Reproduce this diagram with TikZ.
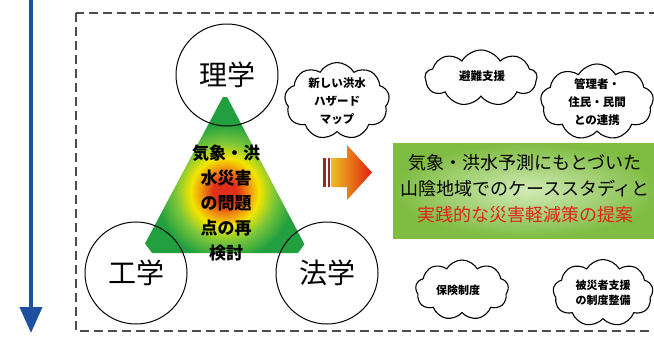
\documentclass[tikz,border=0pt]{standalone}
\usepackage{fontspec}
\newfontfamily\jp{Noto Sans CJK JP}
\usetikzlibrary{shapes.symbols,arrows.meta}
\definecolor{tred}{HTML}{E0301A}
\definecolor{torange}{HTML}{F08A10}
\definecolor{tyellow}{HTML}{F2E600}
\definecolor{tlgreen}{HTML}{7CC63A}
\definecolor{tgreen}{HTML}{22A040}
\definecolor{arrowblue}{HTML}{1F4F9F}
\definecolor{gboxin}{HTML}{D2EAB6}
\definecolor{gboxout}{HTML}{7EBC42}
\definecolor{txtred}{HTML}{E0251B}
\definecolor{stripe}{HTML}{9A2A1A}
\definecolor{aleft}{HTML}{EEC020}
\definecolor{aright}{HTML}{E0200F}
\pgfdeclareradialshading{trishade}{\pgfpoint{0bp}{0bp}}{color(0bp)=(tred); color(3.2bp)=(tred); color(6bp)=(torange); color(9bp)=(tyellow); color(13bp)=(tlgreen); color(18bp)=(tgreen); color(50bp)=(tgreen)}
\tikzset{
  discipline/.style={circle, draw, line width=1pt, minimum size=102pt, inner sep=0pt, font=\jp\fontsize{28}{30}\selectfont},
  cloudbox/.style={cloud, cloud puffs=9, cloud puff arc=120, draw, line width=1.1pt, cloud ignores aspect, inner sep=0pt, align=center},
  cloudtxt/.style={font=\jp\bfseries\fontsize{11.5}{18}\selectfont},
  cloudtxts/.style={font=\jp\bfseries\fontsize{11}{15}\selectfont},
  boxtxt/.style={font=\jp\fontsize{18}{20}\selectfont, inner sep=0pt},
  dashbox/.style={dash pattern=on 9pt off 5pt, line width=1.6pt, color=black!70}
}
\begin{document}
\begin{tikzpicture}[x=1pt,y=-1pt]
\useasboundingbox (0,0) rectangle (654,338);
% timeline arrow
\coordinate (atop) at (31,-3);
\coordinate (abot) at (31,333);
\draw[line width=4pt, color=arrowblue, -{Triangle[width=22pt,length=26pt]}] (atop) -- (abot);
% dashed frame
\draw[dashbox] (76,13) rectangle (672,331);
% triangle
\begin{scope}
\clip (225,93) -- (140,253) -- (309,253) -- cycle;
\shade[shading=trishade] (225,192) circle[radius=95];
\end{scope}
\node[align=center, inner sep=0pt, font=\jp\bfseries\fontsize{17}{25}\selectfont] (issue) at (226,203) {気象・洪\\水災害\\の問題\\点の再\\検討};
% discipline circles
\node[discipline] (ri) at (227,75) {理学};
\node[discipline] (ko) at (136,273) {工学};
\node[discipline] (ho) at (327,273) {法学};
% clouds
\node[cloudbox, minimum width=105pt, minimum height=77pt] (c1) at (337,101) {};
\node[cloudtxt, align=center] (t1) at (c1) {新しい洪水\\ハザード\\マップ};
\node[cloudbox, minimum width=112pt, minimum height=56pt] (c2) at (481,78) {};
\node[cloudtxt] (t2) at (482,76) {避難支援};
\node[cloudbox, minimum width=113pt, minimum height=76pt] (c3) at (597,102) {};
\node[cloudtxt, align=center] (t3) at (c3) {管理者・\\住民・民間\\との連携};
\node[cloudbox, minimum width=93pt, minimum height=60pt] (c4) at (462,290) {};
\node[cloudtxts] (t4) at (458,290) {保険制度};
\node[cloudbox, minimum width=100pt, minimum height=67pt] (c5) at (603,293) {};
\node[cloudtxts, align=center] (t5) at (c5) {被災者支援\\の制度整備};
% orange arrow
\fill[stripe] (323,158) rectangle (325.5,187);
\fill[stripe] (327.5,158) rectangle (329.5,187);
\shade[left color=aleft, right color=aright] (331,158) -- (347,158) -- (347,145) -- (372,172.5) -- (347,200) -- (347,187) -- (331,187) -- cycle;
% green result box
\shade[inner color=gboxin, outer color=gboxout] (393,143) rectangle (660,238);
\node[boxtxt] (r1) at (525,163) {気象・洪水予測にもとづいた};
\node[boxtxt] (r2) at (525,189) {山陰地域でのケーススタディと};
\node[boxtxt, text=txtred] (r3) at (525,215) {実践的な災害軽減策の提案};
\end{tikzpicture}
\end{document}
